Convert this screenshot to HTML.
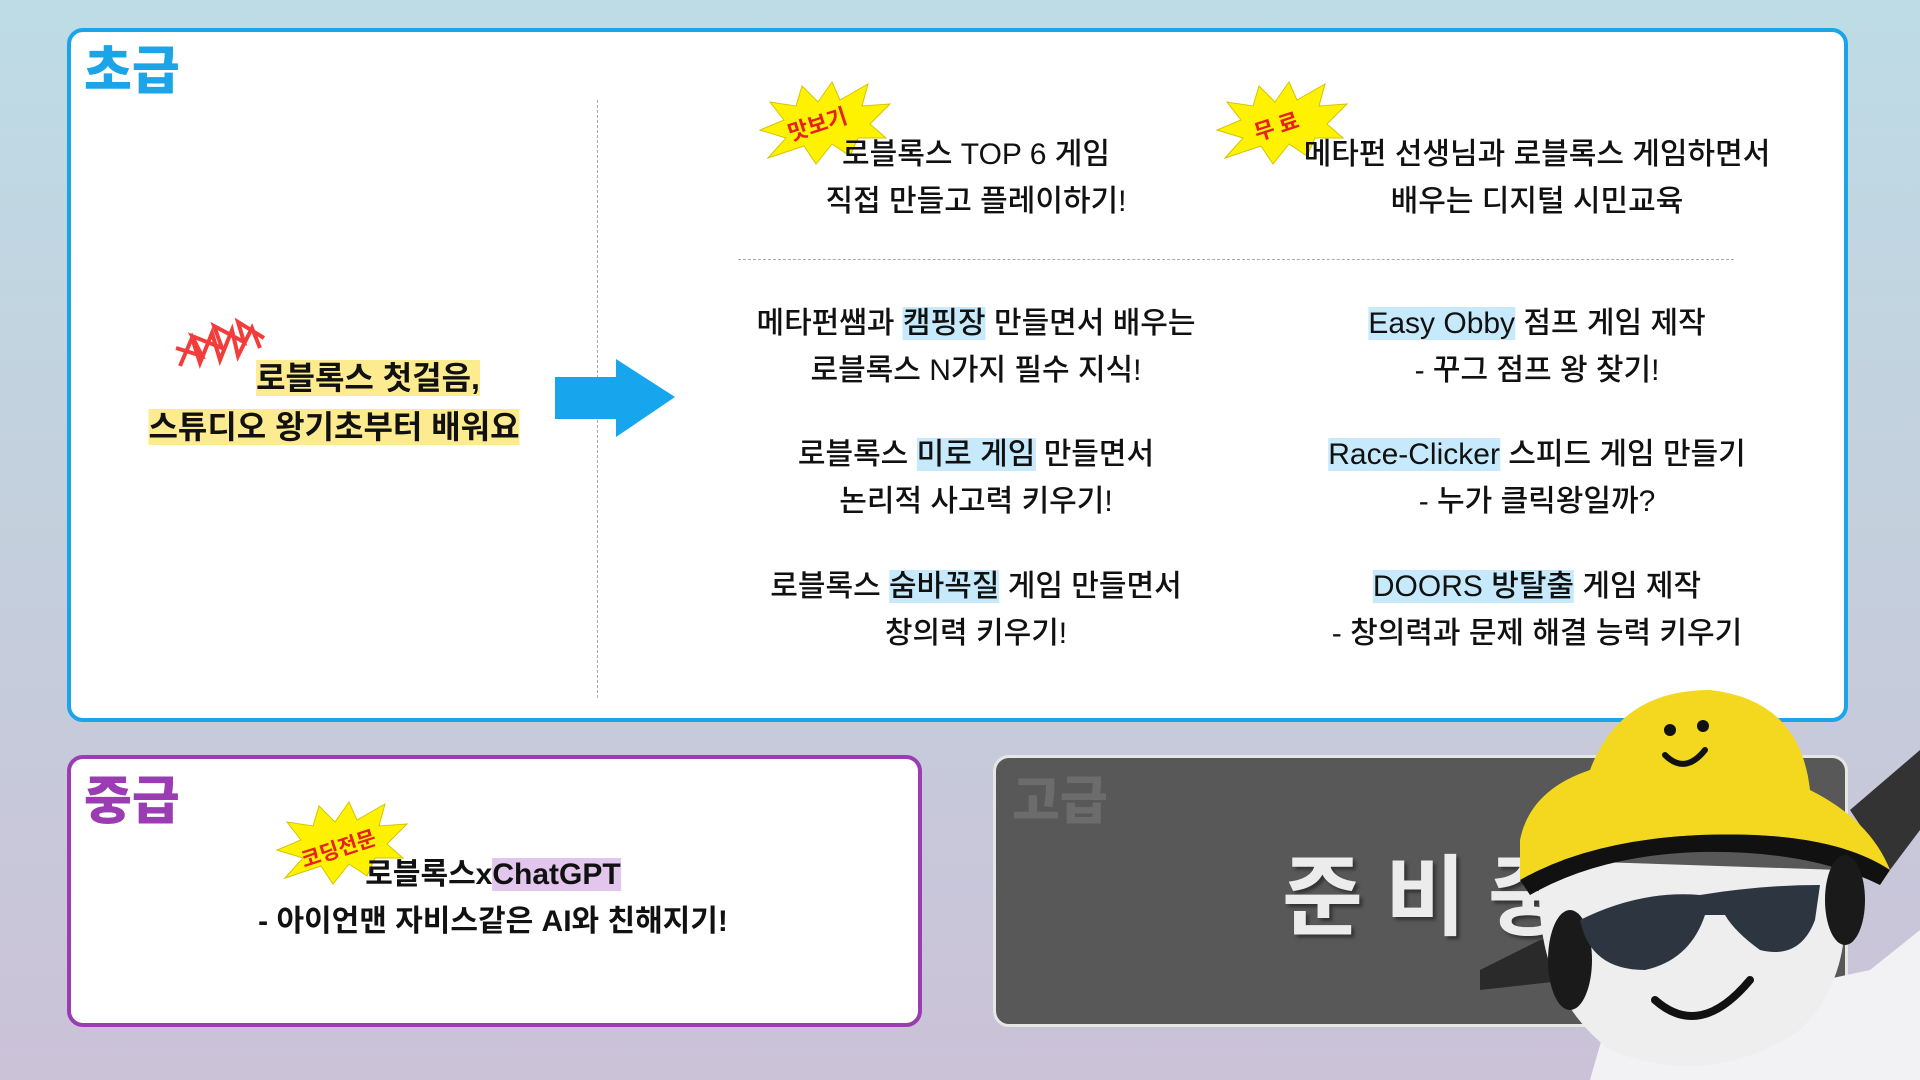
<!DOCTYPE html>
<html><head><meta charset="utf-8"><style>
*{margin:0;padding:0;box-sizing:border-box}
body{width:1920px;height:1080px;overflow:hidden;position:relative;background:linear-gradient(180deg,#bedce6 0%,#c4cfdc 50%,#cbc2d8 100%);font-family:"Liberation Sans","Noto Sans CJK KR",sans-serif;}
.box{position:absolute;border-radius:16px;}
.t{position:absolute;text-align:center;font-size:30px;line-height:47px;color:#111;white-space:nowrap;font-weight:500;transform:translateX(-50%)}
.hb{background:#c6eafc}
.hp{background:#e3c6ee}
.hy{background:#fdec8f}
.lab{position:absolute;font-size:52px;font-weight:900;line-height:1}
.burst{position:absolute}
</style></head><body>
<div class="box" style="left:67px;top:28px;width:1781px;height:694px;background:#fff;border:4px solid #1ca4e8"></div>
<div class="lab" style="left:84px;top:46px;color:#1ca4e8">초급</div>
<div style="position:absolute;left:597px;top:100px;height:598px;border-left:1.5px dashed #aaa"></div>
<div style="position:absolute;left:738px;top:259px;width:996px;border-top:1.5px dashed #aaa"></div>
<svg style="position:absolute;left:553px;top:357px" width="125" height="82"><polygon points="2,20 63,20 63,2 122,40 63,80 63,62 2,62" fill="#17a6ee"/></svg>

<svg class="burst" style="left:172px;top:318px" width="100" height="60"><g fill="none" stroke="#f01c1c" stroke-width="4" opacity=".85"><polyline points="8,48 20,20 28,45 40,15 48,42 60,12 66,38 80,10 88,30"/><polyline points="4,30 30,38 20,18 50,30 42,8 72,24 66,4 92,20"/></g></svg>
<div class="t" style="left:368px;top:355px;font-size:32px;font-weight:700"><span class="hy">로블록스 첫걸음,</span></div>
<div class="t" style="left:334px;top:404px;font-size:32px;font-weight:700"><span class="hy">스튜디오 왕기초부터 배워요</span></div>

<svg class="burst" style="left:758px;top:80px" width="135" height="90" viewBox="0 0 135 90"><polygon points="10,78 28,58 2,50 26,40 12,22 38,26 44,6 60,22 74,2 82,20 110,4 104,26 132,24 112,44 128,58 100,58 92,76 74,64 58,84 46,66" fill="#fff200" stroke="#d4c400" stroke-width="1"/><text x="60" y="52" font-size="22" font-weight="700" fill="#e8201c" text-anchor="middle" transform="rotate(-18 60 46)" font-family="Noto Sans CJK KR">맛보기</text></svg>
<div class="t" style="left:976px;top:131px">로블록스 TOP 6 게임<br>직접 만들고 플레이하기!</div>
<svg class="burst" style="left:1215px;top:80px" width="135" height="90" viewBox="0 0 135 90"><polygon points="10,78 28,58 2,50 26,40 12,22 38,26 44,6 60,22 74,2 82,20 110,4 104,26 132,24 112,44 128,58 100,58 92,76 74,64 58,84 46,66" fill="#fff200" stroke="#d4c400" stroke-width="1"/><text x="62" y="54" font-size="22" font-weight="700" fill="#e8201c" text-anchor="middle" transform="rotate(-18 62 48)" font-family="Noto Sans CJK KR">무 료</text></svg>
<div class="t" style="left:1537px;top:131px">메타펀 선생님과 로블록스 게임하면서<br>배우는 디지털 시민교육</div>

<div class="t" style="left:976px;top:300px">메타펀쌤과 <span class="hb">캠핑장</span> 만들면서 배우는<br>로블록스 N가지 필수 지식!</div>
<div class="t" style="left:1537px;top:300px"><span class="hb">Easy Obby</span> 점프 게임 제작<br>- 꾸그 점프 왕 찾기!</div>
<div class="t" style="left:976px;top:431px">로블록스 <span class="hb">미로 게임</span> 만들면서<br>논리적 사고력 키우기!</div>
<div class="t" style="left:1537px;top:431px"><span class="hb">Race-Clicker</span> 스피드 게임 만들기<br>- 누가 클릭왕일까?</div>
<div class="t" style="left:976px;top:563px">로블록스 <span class="hb">숨바꼭질</span> 게임 만들면서<br>창의력 키우기!</div>
<div class="t" style="left:1537px;top:563px"><span class="hb">DOORS 방탈출</span> 게임 제작<br>- 창의력과 문제 해결 능력 키우기</div>

<div class="box" style="left:67px;top:755px;width:855px;height:272px;background:#fff;border:4px solid #9a3db3"></div>
<div class="lab" style="left:84px;top:776px;color:#9a3db3">중급</div>
<svg class="burst" style="left:275px;top:800px" width="135" height="90" viewBox="0 0 135 90"><polygon points="10,78 28,58 2,50 26,40 12,22 38,26 44,6 60,22 74,2 82,20 110,4 104,26 132,24 112,44 128,58 100,58 92,76 74,64 58,84 46,66" fill="#fff200" stroke="#d4c400" stroke-width="1"/><text x="64" y="56" font-size="21" font-weight="700" fill="#e8201c" text-anchor="middle" transform="rotate(-18 64 50)" font-family="Noto Sans CJK KR">코딩전문</text></svg>
<div class="t" style="left:493px;top:851px;font-weight:700">로블록스x<span class="hp">ChatGPT</span><br>- 아이언맨 자비스같은 AI와 친해지기!</div>

<div class="box" style="left:993px;top:755px;width:855px;height:272px;background:#585858;border:3px solid #e6e6e6"></div>
<div class="lab" style="left:1012px;top:776px;color:#6c6c6c">고급</div>
<div style="position:absolute;left:1282px;top:838px;font-size:88px;font-weight:700;color:#ececec;letter-spacing:22px;text-shadow:3px 3px 3px #333;font-family:'Noto Sans CJK KR',sans-serif;line-height:1.2">준비중</div>

<svg style="position:absolute;left:1470px;top:670px" width="450" height="410" viewBox="0 0 450 410">
<polygon points="10,300 70,270 160,250 100,310 10,320" fill="#2a2a2a"/>
<polygon points="380,140 450,80 450,160 420,200" fill="#333"/>
<path d="M120,410 L140,340 L260,330 L400,300 L450,260 L450,410 Z" fill="#f2f2f4"/>
<path d="M70,190 Q60,320 140,380 Q240,420 330,360 Q390,300 370,200 Z" fill="#eeeeee"/>
<path d="M50,170 Q60,120 120,100 Q150,20 240,20 Q330,30 340,120 Q400,150 420,200 Q360,160 230,165 Q120,170 50,210 Z" fill="#f3d81f"/>
<path d="M50,210 Q120,170 230,165 Q360,160 420,200 L410,215 Q340,180 230,182 Q130,185 60,225 Z" fill="#111"/>
<ellipse cx="100" cy="290" rx="22" ry="50" fill="#1a1a1a"/>
<ellipse cx="375" cy="230" rx="20" ry="45" fill="#1a1a1a"/>
<path d="M110,250 Q170,220 230,225 Q290,215 350,215 L345,250 Q330,290 290,280 Q265,262 255,245 L235,245 Q220,290 175,300 Q120,300 110,250 Z" fill="#2d3640"/>
<path d="M185,330 Q230,370 280,310" stroke="#111" stroke-width="8" fill="none" stroke-linecap="round"/>
<circle cx="200" cy="60" r="6" fill="#111"/><circle cx="233" cy="56" r="6" fill="#111"/>
<path d="M195,85 Q215,105 235,80" stroke="#111" stroke-width="6" fill="none" stroke-linecap="round"/>
</svg>
</body></html>
